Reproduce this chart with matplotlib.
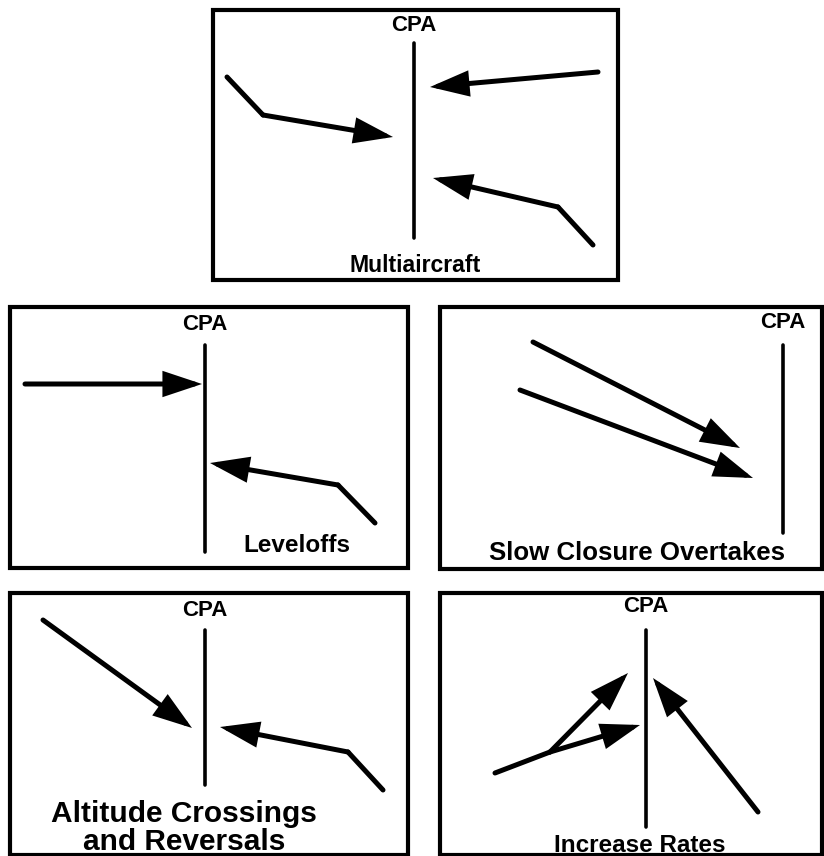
import matplotlib
matplotlib.use("Agg")
import matplotlib.pyplot as plt
from matplotlib.patches import Rectangle, FancyArrowPatch

# panel data (pixel space of the original figure, y grows downward)
labels = ["Multiaircraft", "Leveloffs", "Slow Closure Overtakes",
          "Altitude Crossings\nand Reversals", "Increase Rates"]
boxes = [(213, 10, 618, 280), (10, 307, 408, 568), (440, 307, 822, 569),
         (10, 593, 408, 855), (440, 593, 822, 855)]
cpa_x = [414, 205, 783, 205, 646]
cpa_top = [43, 345, 345, 630, 630]
cpa_bottom = [238, 552, 533, 785, 827]
cpa_label_y = [25, 325, 323, 610, 607]
label_x = [415, 297, 637, 184, 640]
label_y = [265, 545, 553, 828, 846]

# each track: polyline, last point is the arrow tip
tracks = [
    [[(227, 77), (263, 115), (393, 137)],
     [(598, 72), (430, 87)],
     [(593, 245), (558, 207), (433, 178)]],
    [[(25, 384), (202, 384)],
     [(375, 523), (338, 485), (210, 463)]],
    [[(533, 342), (740, 448)],
     [(520, 390), (753, 478)]],
    [[(43, 620), (192, 728)],
     [(383, 790), (348, 752), (220, 727)]],
    [[(495, 773), (550, 752), (640, 725)],
     [(550, 752), (628, 673)],
     [(758, 812), (653, 678)]],
]

plt.rcParams['font.family'] = ['Liberation Sans', 'DejaVu Sans']
label_sizes = [16.6, 17.5, 18.6, 21.5, 17.5]

fig = plt.figure(figsize=(8.24, 8.56), dpi=100)
ax = fig.add_axes([0, 0, 1, 1])
ax.set_xlim(0, 824)
ax.set_ylim(856, 0)
ax.axis('off')

for i in range(len(labels)):
    x0, y0, x1, y1 = boxes[i]
    ax.add_patch(Rectangle((x0, y0), x1 - x0, y1 - y0, fill=False,
                           lw=3.0, ec='black', joinstyle='miter'))
    ax.plot([cpa_x[i], cpa_x[i]], [cpa_top[i], cpa_bottom[i]],
            color='black', lw=2.6, solid_capstyle='round')
    ax.text(cpa_x[i], cpa_label_y[i], "CPA", ha='center', va='center',
            fontsize=16, fontweight='bold')
    ax.text(label_x[i], label_y[i], labels[i], ha='center', va='center',
            fontsize=label_sizes[i], fontweight='bold', linespacing=1.02)
    for pts in tracks[i]:
        xs = [p[0] for p in pts]
        ys = [p[1] for p in pts]
        if len(pts) > 2:
            ax.plot(xs[:-1], ys[:-1], color='black', lw=3.6,
                    solid_capstyle='round', solid_joinstyle='round')
        arr = FancyArrowPatch(pts[-2], pts[-1],
                              arrowstyle='-|>,head_length=21,head_width=7',
                              mutation_scale=1, shrinkA=0, shrinkB=0,
                              color='black', lw=3.6, capstyle='round',
                              joinstyle='miter')
        ax.add_patch(arr)

fig.savefig("out.png", dpi=100, facecolor='white')
